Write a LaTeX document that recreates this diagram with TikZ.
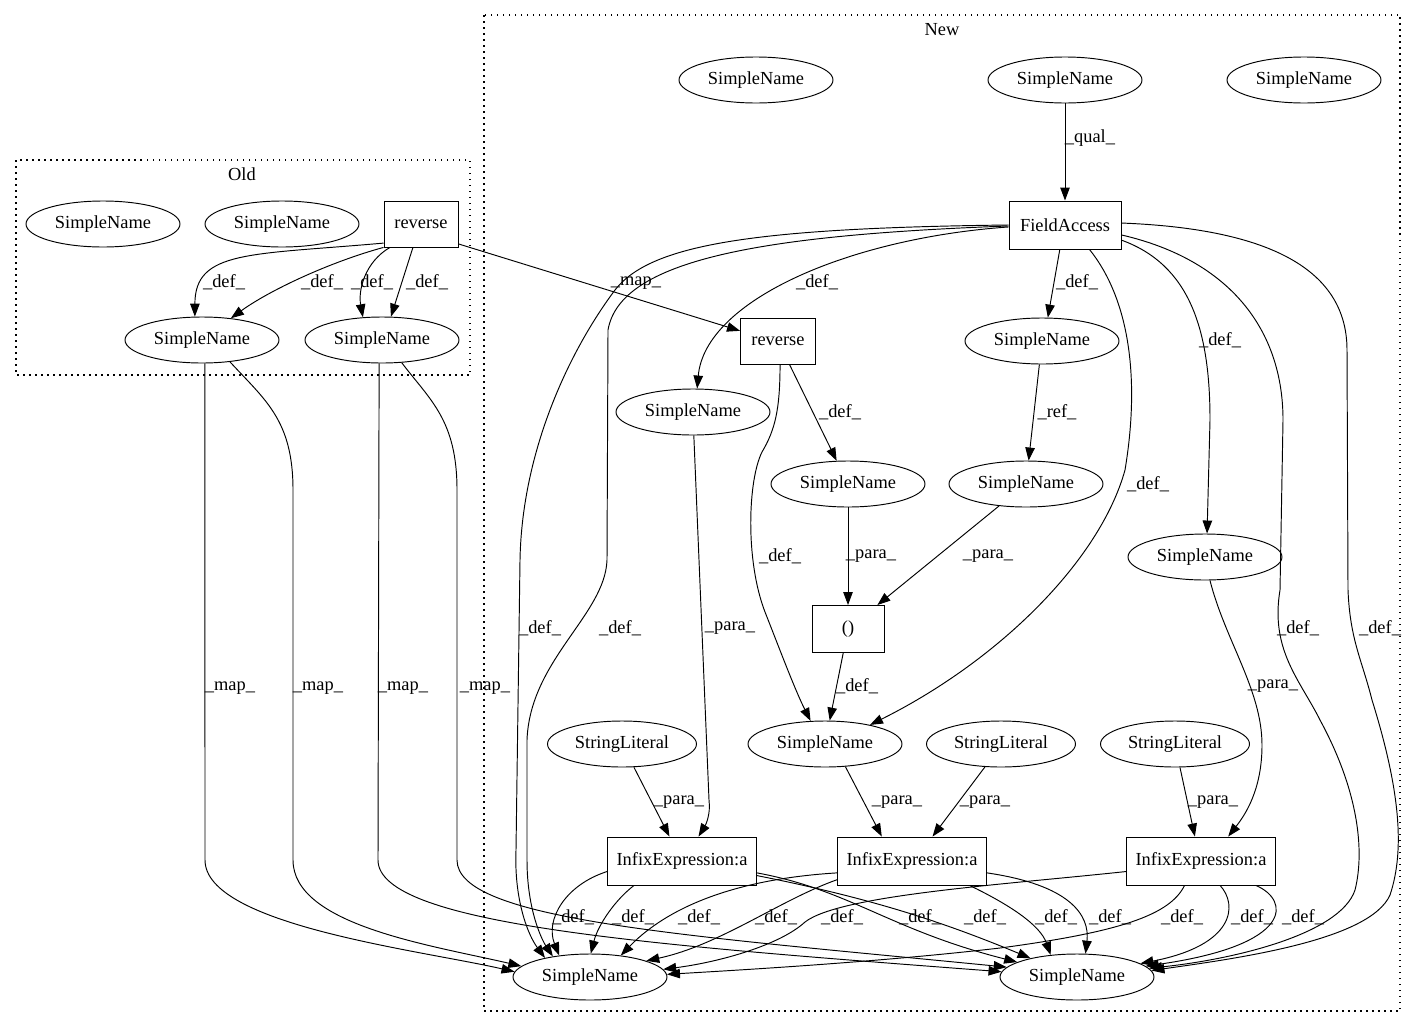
\documentclass[tikz,border=0pt]{standalone}
\usepackage{fontspec}
\setmainfont{Liberation Serif}
\usetikzlibrary{arrows.meta,shapes.geometric}
\begin{document}
\begin{tikzpicture}[x=1pt,y=-1pt,
  every node/.style={font=\fontsize{18.4}{20}\selectfont},
  sn/.style={draw, ellipse, line width=0.95pt, minimum width=154pt, minimum height=46pt, inner sep=0pt},
  sl/.style={sn, minimum width=149pt},
  bx/.style={draw, rectangle, line width=0.95pt, minimum height=46pt, inner sep=0pt},
  lbl/.style={inner sep=0pt},
  edge/.style={line width=0.95pt, -{Triangle[length=13pt,width=9.5pt]}},
  clus/.style={line width=1.3pt, dash pattern=on 1.5pt off 4.5pt}]
\useasboundingbox (0,0) rectangle (1416,1028);

% clusters
\draw[clus] (16,160) rectangle (470,375);
\node (oldlbl) at (242,174) {Old};
\draw[clus] (484,15) rectangle (1400,1011);
\node (newlbl) at (942,30) {New};

% Old nodes
\node[sn] (o1) at (103,224) {SimpleName};
\node[sn] (o2) at (282,224) {SimpleName};
\node[bx, minimum width=74pt] (oRev) at (421,224) {reverse};
\node[sn] (o3) at (202,340) {SimpleName};
\node[sn] (o4) at (382,340) {SimpleName};

% New nodes
\node[sn] (n1) at (756,80) {SimpleName};
\node[sn] (n2) at (1065,80) {SimpleName};
\node[sn] (n3) at (1304,80) {SimpleName};
\node[bx, minimum width=112pt, minimum height=48pt] (FA) at (1065,225) {FieldAccess};
\node[bx, minimum width=75pt] (nRev) at (778,341) {reverse};
\node[sn] (n4) at (693,412) {SimpleName};
\node[sn] (n5) at (1042,341) {SimpleName};
\node[sn] (n6) at (848,484) {SimpleName};
\node[sn] (n7) at (1026,484) {SimpleName};
\node[sn] (n8) at (1205,557) {SimpleName};
\node[bx, minimum width=72pt, minimum height=47pt] (par) at (848,629) {()};
\node[sn] (n9) at (825,744) {SimpleName};
\node[sl] (sl1) at (622,744) {StringLiteral};
\node[sl] (sl2) at (1001,744) {StringLiteral};
\node[sl] (sl3) at (1175,744) {StringLiteral};
\node[bx, minimum width=149pt, minimum height=48pt] (ie1) at (682,861) {InfixExpression:a};
\node[bx, minimum width=149pt, minimum height=48pt] (ie2) at (912,861) {InfixExpression:a};
\node[bx, minimum width=149pt, minimum height=48pt] (ie3) at (1201,861) {InfixExpression:a};
\node[sn] (b1) at (590,977) {SimpleName};
\node[sn] (b2) at (1077,977) {SimpleName};

% Old edges
\draw[edge] (oRev.207) .. controls (250,255) and (195,250) .. (o3.107);
\draw[edge] (oRev.212) .. controls (330,262) and (270,290) .. (o3.37);
\draw[edge] (oRev.217) .. controls (365,262) and (358,290) .. (o4.130);
\draw[edge] (oRev.251) -- (o4.69);
\draw[edge] (oRev.332) -- (nRev.165);

% map edges
\draw[edge] (o3.277) -- (205,860) .. controls (205,925) and (420,950) .. (b1.176);
\draw[edge] (o3.322) .. controls (265,400) and (293,420) .. (293,490) -- (293,860) .. controls (293,925) and (430,945) .. (b1.171);
\draw[edge] (o4.263) -- (378,860) .. controls (378,925) and (650,945) .. (b2.176);
\draw[edge] (o4.311) .. controls (430,400) and (457,420) .. (457,490) -- (457,860) .. controls (457,920) and (680,935) .. (b2.172);

% FieldAccess edges
\draw[edge] (n2) -- (FA);
\draw[edge] (FA.182) .. controls (850,238) and (705,300) .. (n4.80);
\draw[edge] (FA.180) .. controls (750,228) and (650,245) .. (615,290) .. controls (570,350) and (522,450) .. (520,560) -- (516,850) .. controls (514,900) and (528,935) .. (b1.157);
\draw[edge] (FA.181) .. controls (760,235) and (620,260) .. (608,330) -- (607,560) .. controls (605,615) and (530,660) .. (527,740) -- (527,860) .. controls (527,910) and (542,940) .. (b1.151);
\draw[edge] (FA.258) -- (n5.76);
\draw[edge] (FA.315) .. controls (1130,300) and (1140,380) .. (1125,470) .. controls (1100,560) and (1000,660) .. (n9.23);
\draw[edge] (FA.345) .. controls (1190,265) and (1210,330) .. (1210,420) -- (n8.85);
\draw[edge] (FA.350) .. controls (1230,260) and (1283,330) .. (1283,420) -- (1280,590) .. controls (1270,650) and (1300,680) .. (1320,720) .. controls (1358,790) and (1365,850) .. (1355,890) .. controls (1340,935) and (1230,960) .. (b2.7);
\draw[edge] (FA.2) .. controls (1250,228) and (1347,260) .. (1347,350) -- (1348,590) .. controls (1350,640) and (1362,660) .. (1372,700) .. controls (1400,790) and (1405,850) .. (1390,895) .. controls (1370,940) and (1240,958) .. (b2.5);

% reverse (new) edges
\draw[edge] (nRev) -- (n6);
\draw[edge] (nRev.275) .. controls (780,410) and (775,430) .. (762,452) .. controls (748,480) and (745,560) .. (765,612) .. controls (780,650) and (795,690) .. (n9.122);

% middle edges
\draw[edge] (n5) -- (n7);
\draw[edge] (n6) -- (par);
\draw[edge] (n7) -- (par);
\draw[edge] (par) -- (n9);
\draw[edge] (n4.272) -- (709,800) .. controls (711,815) and (705,826) .. (ie1.56);
\draw[edge] (sl1) -- (ie1);
\draw[edge] (n9.312) -- (ie2.141);
\draw[edge] (sl2.235) -- (ie2.50);
\draw[edge] (n8.282) .. controls (1225,640) and (1262,690) .. (1262,745) .. controls (1262,790) and (1245,815) .. (ie3.42);
\draw[edge] (sl3.282) -- (ie3.104);

% bottom edges
\draw[edge] (ie1.188) .. controls (565,885) and (545,920) .. (b1.145);
\draw[edge] (ie1.207) .. controls (615,900) and (598,925) .. (b1.88);
\draw[edge] (ie1.351) .. controls (850,890) and (890,930) .. (b2.166);
\draw[edge] (ie1.349) .. controls (880,900) and (950,925) .. (b2.158);
\draw[edge] (ie2.189) .. controls (720,880) and (660,915) .. (b1.35);
\draw[edge] (ie2.194) .. controls (780,900) and (720,945) .. (b1.16);
\draw[edge] (ie2.337) .. controls (1010,905) and (1040,925) .. (b2.140);
\draw[edge] (ie2.351) .. controls (1070,885) and (1090,915) .. (b2.70);
\draw[edge] (ie3.188) .. controls (1000,885) and (840,895) .. (805,922) .. controls (780,945) and (720,962) .. (b1.6);
\draw[edge] (ie3.236) .. controls (1170,915) and (1120,932) .. (1000,948) .. controls (880,962) and (740,970) .. (b1.2);
\draw[edge] (ie3.308) .. controls (1238,905) and (1235,945) .. (b2.12);
\draw[edge] (ie3.336) .. controls (1290,900) and (1295,945) .. (b2.9);

% labels
\node[lbl] (l1) at (224,282) {\_def\_};
\node[lbl] (l2) at (322,282) {\_def\_};
\node[lbl] (l3) at (372,282) {\_def\_};
\node[lbl] (l4) at (427,282) {\_def\_};
\node[lbl] (l5) at (636,283) {\_map\_};
\node[lbl] (l6) at (230,688) {\_map\_};
\node[lbl] (l7) at (318,688) {\_map\_};
\node[lbl] (l8) at (403,688) {\_map\_};
\node[lbl] (l9) at (485,688) {\_map\_};
\node[lbl] (l10) at (1090,138) {\_qual\_};
\node[lbl] (l11) at (817,282) {\_def\_};
\node[lbl] (l12) at (1077,282) {\_def\_};
\node[lbl] (l13) at (1220,340) {\_def\_};
\node[lbl] (l14) at (1148,484) {\_def\_};
\node[lbl] (l15) at (540,628) {\_def\_};
\node[lbl] (l16) at (620,628) {\_def\_};
\node[lbl] (l17) at (1298,628) {\_def\_};
\node[lbl] (l18) at (1380,628) {\_def\_};
\node[lbl] (l19) at (840,412) {\_def\_};
\node[lbl] (l20) at (780,556) {\_def\_};
\node[lbl] (l21) at (1057,412) {\_ref\_};
\node[lbl] (l22) at (871,556) {\_para\_};
\node[lbl] (l23) at (988,556) {\_para\_};
\node[lbl] (l24) at (857,686) {\_def\_};
\node[lbl] (l25) at (730,628) {\_para\_};
\node[lbl] (l26) at (679,802) {\_para\_};
\node[lbl] (l27) at (897,802) {\_para\_};
\node[lbl] (l28) at (985,802) {\_para\_};
\node[lbl] (l29) at (1273,686) {\_para\_};
\node[lbl] (l30) at (1213,802) {\_para\_};
\node[lbl] (l31) at (573,917) {\_def\_};
\node[lbl] (l32) at (633,917) {\_def\_};
\node[lbl] (l33) at (699,917) {\_def\_};
\node[lbl] (l34) at (776,917) {\_def\_};
\node[lbl] (l35) at (842,917) {\_def\_};
\node[lbl] (l36) at (920,917) {\_def\_};
\node[lbl] (l37) at (985,917) {\_def\_};
\node[lbl] (l38) at (1056,917) {\_def\_};
\node[lbl] (l39) at (1110,917) {\_def\_};
\node[lbl] (l40) at (1182,917) {\_def\_};
\node[lbl] (l41) at (1252,917) {\_def\_};
\node[lbl] (l42) at (1303,917) {\_def\_};
\end{tikzpicture}
\end{document}
